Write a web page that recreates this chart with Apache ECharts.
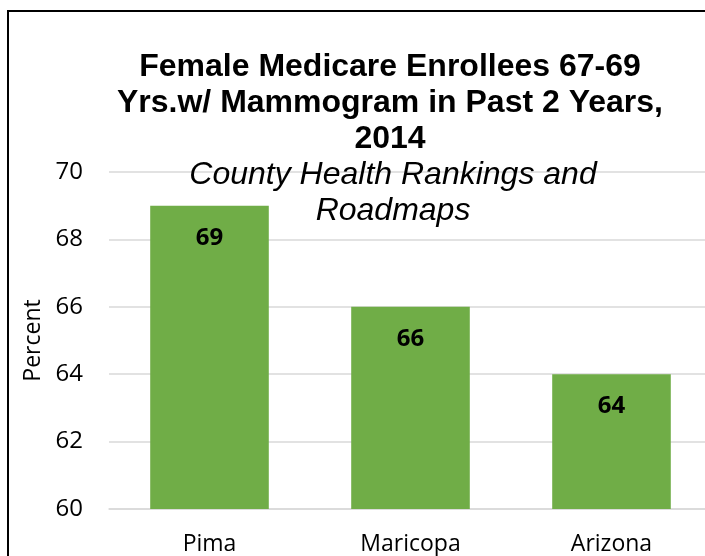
<!DOCTYPE html>
<html>
<head>
<meta charset="utf-8">
<script src="https://cdn.jsdelivr.net/npm/echarts@6/dist/echarts.min.js"></script>
<style>
  html, body { margin: 0; padding: 0; background: #fff; }
  #chart { width: 705px; height: 556px; }
</style>
</head>
<body>
<div id="chart"></div>
<script>
// chart values
const categories = ['Pima', 'Maricopa', 'Arizona'];
const percentValues = [69, 66, 64];
const titleLines = ['Female Medicare Enrollees 67-69', 'Yrs.w/ Mammogram in Past 2 Years,', '2014'];
const subtitleLines = ['County Health Rankings and', 'Roadmaps'];

const chart = echarts.init(document.getElementById('chart'));

chart.setOption({
  backgroundColor: '#fff',
  animation: false,
  graphic: [
    {
      type: 'rect',
      shape: { x: 8, y: 11, width: 720, height: 580 },
      style: { fill: 'none', stroke: '#000', lineWidth: 2 },
      z: 0
    }
  ],
  title: [
    {
      text: titleLines.join('\n'),
      left: 385,
      top: 44,
      textAlign: 'center',
      textStyle: {
        fontFamily: 'Liberation Sans, Arial, sans-serif',
        fontWeight: 'bold',
        fontSize: 32,
        lineHeight: 36,
        color: '#000'
      }
    },
    {
      text: subtitleLines.join('\n'),
      left: 388,
      top: 152,
      textAlign: 'center',
      textStyle: {
        fontFamily: 'Liberation Sans, Arial, sans-serif',
        fontStyle: 'italic',
        fontWeight: 'normal',
        fontSize: 32,
        lineHeight: 36,
        color: '#000'
      }
    }
  ],
  grid: {
    left: 109,
    width: 603,
    top: 172,
    bottom: 47,
    outerBoundsMode: 'none'
  },
  xAxis: {
    type: 'category',
    data: categories,
    axisTick: { show: false },
    axisLine: { lineStyle: { color: '#d9d9d9', width: 1.5 } },
    axisLabel: {
      fontFamily: 'Open Sans, Noto Sans, sans-serif',
      fontSize: 23,
      color: '#000',
      margin: 24
    }
  },
  yAxis: {
    type: 'value',
    min: 60,
    max: 70,
    interval: 2,
    name: 'Percent',
    nameLocation: 'middle',
    nameGap: 63,
    nameTextStyle: {
      fontFamily: 'Open Sans, Noto Sans, sans-serif',
      fontSize: 23,
      color: '#000'
    },
    axisLine: { show: false },
    axisTick: { show: false },
    splitLine: { lineStyle: { color: '#d9d9d9', width: 1.5 } },
    axisLabel: {
      fontFamily: 'Open Sans, Noto Sans, sans-serif',
      fontSize: 24,
      color: '#000',
      margin: 26
    }
  },
  series: [
    {
      type: 'bar',
      data: percentValues,
      barWidth: '59%',
      itemStyle: { color: '#70ad47' },
      label: {
        show: true,
        position: 'insideTop',
        distance: 20,
        fontFamily: 'Open Sans, Noto Sans, sans-serif',
        fontWeight: 'bold',
        fontSize: 24,
        color: '#000'
      }
    }
  ]
});
</script>
</body>
</html>
